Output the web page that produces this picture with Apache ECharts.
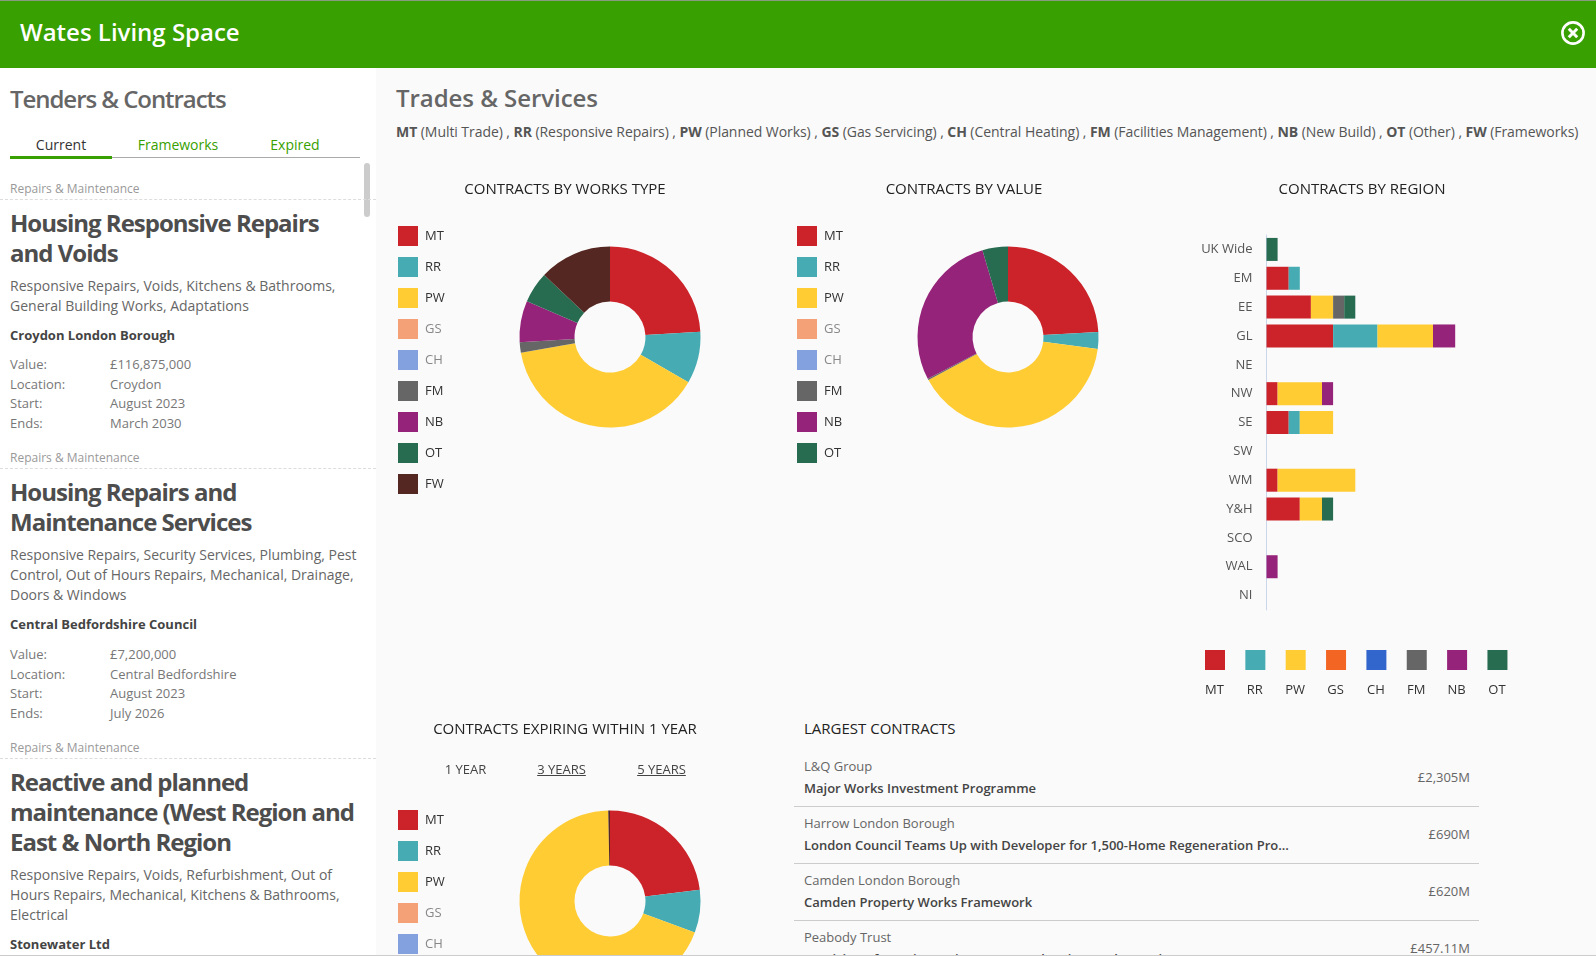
<!DOCTYPE html>
<html>
<head>
<meta charset="utf-8">
<title>Wates Living Space</title>
<script src="https://cdn.jsdelivr.net/npm/echarts@6/dist/echarts.min.js"></script>
<style>
  html, body { margin: 0; padding: 0; height: 100%; overflow: hidden; background: #fafafa; font-family: "Open Sans", sans-serif; }
  .abs { position: absolute; }
  #topbar { left: 0; top: 1px; width: 100%; height: 67px; background: #38a000; color: #fff; font-size: 24px; font-weight: 600; line-height: 62px; }
  #topbar span { margin-left: 20px; }
  #topline { left: 0; top: 0; width: 100%; height: 1px; background: #8a9a80; }
  #bottomline { left: 0; top: 955px; width: 100%; height: 1px; background: #ccc; z-index: 5; }
  #close { left: 1559px; top: 19px; }

  #sidebar { left: 0; top: 68px; width: 376px; height: 888px; background: #fff; overflow: hidden; }
  #sidebar h2 { position: absolute; left: 10px; top: 13px; margin: 0; font-size: 24px; line-height: 36px; font-weight: 600; color: #666; letter-spacing: -1.05px; white-space: nowrap; }
  .tab { position: absolute; top: 65px; font-size: 14px; line-height: 24px; color: #38a000; transform: translateX(-50%); }
  #tabline { position: absolute; left: 10px; top: 89px; width: 350px; height: 1px; background: #aaa; }
  #tabactive { position: absolute; left: 10px; top: 88px; width: 102px; height: 3px; background: #38a000; }
  #scroll { position: absolute; left: 364px; top: 95px; width: 6px; height: 54px; border-radius: 3px; background: #ccc; }
  #cards { position: absolute; left: 0; top: 111px; width: 376px; }
  .card { margin-bottom: 15px; }
  .cat { height: 20px; line-height: 20px; padding-left: 10px; font-size: 12px; color: #999; border-bottom: 1px dashed #ddd; }
  .card h3 { margin: 8px 10px 0; font-size: 24px; line-height: 30px; font-weight: 700; color: #4d4d4d; letter-spacing: -1px; }
  .card p { margin: 8px 10px 0; font-size: 14px; line-height: 20px; color: #666; width: 350px; }
  .card .client { margin: 9px 10px 0; font-size: 13px; line-height: 20px; font-weight: 700; color: #444; }
  .card dl { margin: 10px 10px 0; font-size: 13px; line-height: 19.5px; color: #777; }
  .card dt { float: left; clear: left; width: 100px; }
  .card dd { margin: 0 0 0 100px; }

  #main-title { left: 396px; top: 80px; font-size: 24px; line-height: 36px; font-weight: 600; color: #666; white-space: nowrap; letter-spacing: -0.05px; }
  #codes { left: 396px; top: 122px; font-size: 14px; line-height: 20px; color: #555; white-space: nowrap; letter-spacing: -0.06px; }
  #codes b { font-weight: 700; }
  .range { top: 759px; font-size: 13px; line-height: 20px; color: #444; transform: translateX(-50%); white-space: nowrap; }
  .range.link { text-decoration: underline; }

  #largest { left: 794px; top: 718px; width: 685px; color: #444; }
  #largest h4 { margin: 0 0 0 10px; font-size: 15px; line-height: 20px; font-weight: 400; color: #222; }
  .row { position: relative; height: 56px; border-bottom: 1px solid #ccc; }
  .row .org { position: absolute; left: 10px; top: 6px; font-size: 13px; line-height: 20px; color: #666; white-space: nowrap; }
  .row .name { position: absolute; left: 10px; top: 28px; font-size: 13px; line-height: 20px; font-weight: 600; color: #444; white-space: nowrap; }
  .row .amount { position: absolute; right: 9px; top: 17px; font-size: 13px; line-height: 20px; color: #666; }
  #rows { position: absolute; left: 0; top: 32px; width: 685px; }
</style>
</head>
<body>
<div class="abs" id="topline"></div>
<div class="abs" id="topbar"><span>Wates Living Space</span></div>
<svg class="abs" id="close" width="28" height="28" viewBox="0 0 28 28">
  <circle cx="14" cy="14" r="10.6" fill="none" stroke="#fff" stroke-width="2.6"/>
  <path d="M9.8 9.8 L18.2 18.2 M18.2 9.8 L9.8 18.2" stroke="#fff" stroke-width="3" fill="none"/>
</svg>

<div class="abs" id="sidebar">
  <h2>Tenders &amp; Contracts</h2>
  <div class="tab" style="left:61px;color:#333">Current</div>
  <div class="tab" style="left:178px">Frameworks</div>
  <div class="tab" style="left:295px">Expired</div>
  <div id="tabline"></div>
  <div id="tabactive"></div>
  <div id="scroll"></div>
  <div id="cards">
    <div class="card">
      <div class="cat">Repairs &amp; Maintenance</div>
      <h3>Housing Responsive Repairs and Voids</h3>
      <p>Responsive Repairs, Voids, Kitchens &amp; Bathrooms, General Building Works, Adaptations</p>
      <div class="client">Croydon London Borough</div>
      <dl><dt>Value:</dt><dd>£116,875,000</dd><dt>Location:</dt><dd>Croydon</dd><dt>Start:</dt><dd>August 2023</dd><dt>Ends:</dt><dd>March 2030</dd></dl>
    </div>
    <div class="card">
      <div class="cat">Repairs &amp; Maintenance</div>
      <h3>Housing Repairs and Maintenance Services</h3>
      <p>Responsive Repairs, Security Services, Plumbing, Pest Control, Out of Hours Repairs, Mechanical, Drainage, Doors &amp; Windows</p>
      <div class="client">Central Bedfordshire Council</div>
      <dl style="margin-top:11px"><dt>Value:</dt><dd>£7,200,000</dd><dt>Location:</dt><dd>Central Bedfordshire</dd><dt>Start:</dt><dd>August 2023</dd><dt>Ends:</dt><dd>July 2026</dd></dl>
    </div>
    <div class="card">
      <div class="cat">Repairs &amp; Maintenance</div>
      <h3>Reactive and planned maintenance (West Region and East &amp; North Region</h3>
      <p>Responsive Repairs, Voids, Refurbishment, Out of Hours Repairs, Mechanical, Kitchens &amp; Bathrooms, Electrical</p>
      <div class="client">Stonewater Ltd</div>
    </div>
  </div>
</div>

<div class="abs" id="main-title">Trades &amp; Services</div>
<div class="abs" id="codes"><b>MT</b> (Multi Trade) , <b>RR</b> (Responsive Repairs) , <b>PW</b> (Planned Works) , <b>GS</b> (Gas Servicing) , <b>CH</b> (Central Heating) , <b>FM</b> (Facilities Management) , <b>NB</b> (New Build) , <b>OT</b> (Other) , <b>FW</b> (Frameworks)</div>

<div class="abs" id="chart-type" style="left:390px;top:170px;width:390px;height:400px"></div>
<div class="abs" id="chart-value" style="left:782px;top:170px;width:390px;height:400px"></div>
<div class="abs" id="chart-region" style="left:1180px;top:170px;width:400px;height:540px"></div>
<div class="abs" id="chart-expiring" style="left:390px;top:710px;width:390px;height:400px"></div>

<div class="abs range" style="left:465.5px">1 YEAR</div>
<div class="abs range link" style="left:561.5px">3 YEARS</div>
<div class="abs range link" style="left:661.5px">5 YEARS</div>

<div class="abs" id="largest">
  <h4>LARGEST CONTRACTS</h4>
  <div id="rows">
    <div class="row"><div class="org">L&amp;Q Group</div><div class="name">Major Works Investment Programme</div><div class="amount">£2,305M</div></div>
    <div class="row"><div class="org">Harrow London Borough</div><div class="name">London Council Teams Up with Developer for 1,500-Home Regeneration Pro...</div><div class="amount">£690M</div></div>
    <div class="row"><div class="org">Camden London Borough</div><div class="name">Camden Property Works Framework</div><div class="amount">£620M</div></div>
    <div class="row" style="border:0"><div class="org">Peabody Trust</div><div class="name">Provision of Repairs, Maintenance and Major Works Services</div><div class="amount">£457.11M</div></div>
  </div>
</div>
<div class="abs" id="bottomline"></div>

<script>
  // legend codes and their colours
  var allCodes = ['MT', 'RR', 'PW', 'GS', 'CH', 'FM', 'NB', 'OT', 'FW'];
  var codeColors = {
    MT: '#cc2229', RR: '#46abb2', PW: '#ffcc33', GS: '#f26522', CH: '#3366cc',
    FM: '#666666', NB: '#96237a', OT: '#276b50', FW: '#552722'
  };
  var regionCodes = ['MT', 'RR', 'PW', 'GS', 'CH', 'FM', 'NB', 'OT'];

  // donut values, same order as the codes
  var worksTypeValues = [13, 5, 21, 0, 0, 1, 4, 3, 7];
  var contractValueShares = [24.1, 3, 40, 0, 0, 0.25, 28.1, 4.55];
  var expiringValues = [3, 1, 9, 0, 0, 0, 0, 0, 0.04];

  // region bars
  var regions = ['UK Wide', 'EM', 'EE', 'GL', 'NE', 'NW', 'SE', 'SW', 'WM', 'Y&H', 'SCO', 'WAL', 'NI'];
  var regionMT = [0, 2, 4, 6, 0, 1, 2, 0, 1, 3, 0, 0, 0];
  var regionRR = [0, 1, 0, 4, 0, 0, 1, 0, 0, 0, 0, 0, 0];
  var regionPW = [0, 0, 2, 5, 0, 4, 3, 0, 7, 2, 0, 0, 0];
  var regionGS = [0, 0, 0, 0, 0, 0, 0, 0, 0, 0, 0, 0, 0];
  var regionCH = [0, 0, 0, 0, 0, 0, 0, 0, 0, 0, 0, 0, 0];
  var regionFM = [0, 0, 1, 0, 0, 0, 0, 0, 0, 0, 0, 0, 0];
  var regionNB = [0, 0, 0, 2, 0, 1, 0, 0, 0, 0, 0, 1, 0];
  var regionOT = [1, 0, 1, 0, 0, 0, 0, 0, 0, 1, 0, 0, 0];

  var regionValues = {
    MT: regionMT, RR: regionRR, PW: regionPW, GS: regionGS,
    CH: regionCH, FM: regionFM, NB: regionNB, OT: regionOT
  };
  var FONT = '"Open Sans", sans-serif';

  function makeTitle(text, left, top, align) {
    return {
      text: text,
      left: left,
      top: top,
      padding: 0,
      textAlign: align || 'center',
      textStyle: { fontFamily: FONT, fontSize: 15, fontWeight: 'normal', color: '#222' }
    };
  }

  function makeDonut(id, title, values, opt) {
    var chart = echarts.init(document.getElementById(id));
    var codes = allCodes.slice(0, values.length);
    chart.setOption({
      animation: false,
      title: makeTitle(title, opt.titleX, opt.titleY),
      legend: {
        orient: 'vertical',
        left: opt.legendX,
        top: opt.legendY,
        padding: 0,
        icon: 'rect',
        itemWidth: 20,
        itemHeight: 20,
        itemGap: 11,
        selectedMode: false,
        textStyle: { fontFamily: FONT, fontSize: 13, color: '#333', padding: [0, 0, 2, 2] },
        // codes with no contracts are faded
        data: codes.map(function(code, i) {
          if (values[i] > 0) return { name: code };
          return { name: code, itemStyle: { opacity: 0.6 }, textStyle: { color: '#888' } };
        })
      },
      series: [{
        type: 'pie',
        silent: true,
        startAngle: 90,
        center: [opt.centerX, opt.centerY],
        radius: [35.5, 90.5],
        label: { show: false },
        labelLine: { show: false },
        data: codes.map(function(code, i) {
          return { name: code, value: values[i], itemStyle: { color: codeColors[code] } };
        })
      }]
    });
    return chart;
  }

  makeDonut('chart-type', 'CONTRACTS BY WORKS TYPE', worksTypeValues, {
    titleX: 175, titleY: 12, legendX: 8, legendY: 56, centerX: 220, centerY: 167
  });
  makeDonut('chart-value', 'CONTRACTS BY VALUE', contractValueShares, {
    titleX: 182, titleY: 12, legendX: 15, legendY: 56, centerX: 226, centerY: 167
  });
  makeDonut('chart-expiring', 'CONTRACTS EXPIRING WITHIN 1 YEAR', expiringValues, {
    titleX: 175, titleY: 12, legendX: 8, legendY: 100, centerX: 220, centerY: 191
  });

  // region chart, legend sits underneath with the label below each swatch
  var regionChart = echarts.init(document.getElementById('chart-region'));
  var legendShapes = [];
  regionCodes.forEach(function(code, i) {
    var x = 25 + i * 40.35;
    legendShapes.push({
      type: 'rect', left: x, top: 480, silent: true,
      shape: { width: 20, height: 20 }, style: { fill: codeColors[code] }
    });
    legendShapes.push({
      type: 'text', x: x + 9.5, y: 520.5, silent: true,
      style: { text: code, fontFamily: FONT, fontSize: 13, fill: '#333', textAlign: 'center', textVerticalAlign: 'middle' }
    });
  });
  regionChart.setOption({
    animation: false,
    title: makeTitle('CONTRACTS BY REGION', 182, 12),
    grid: { left: 86.5, top: 65, height: 375, width: 222 },
    xAxis: { type: 'value', min: 0, max: 20, show: false },
    yAxis: {
      type: 'category',
      inverse: true,
      data: regions,
      axisLine: { show: true, lineStyle: { color: '#ccd6eb', width: 1 } },
      axisTick: { show: false },
      axisLabel: { fontFamily: FONT, fontSize: 13, color: '#555', margin: 14 }
    },
    series: regionCodes.map(function(code) {
      return {
        name: code,
        type: 'bar',
        stack: 'regions',
        silent: true,
        barWidth: 23,
        itemStyle: { color: codeColors[code] },
        data: regionValues[code]
      };
    }),
    graphic: legendShapes
  });
</script>
</body>
</html>
